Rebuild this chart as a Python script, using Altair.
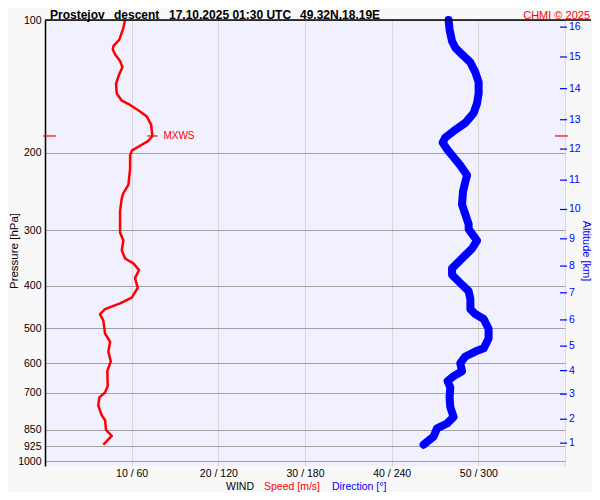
import altair as alt
import pandas as pd

# ---- data ----
speed_p = [100, 104.3, 110.8, 114.6, 116.6, 119.6, 123.8, 128.0, 132.5, 139.5, 146.8, 152.4, 155.8,
           161.2, 165.4, 172.6, 183.2, 187.9, 192.8, 197.8, 202.9, 217.3, 236.6, 247.0, 253.4, 271.2,
           303.1, 316.2, 332.8, 347.3, 356.3, 368.7, 384.7, 404.9, 426.1, 438.8, 452.4, 464.2, 480.3,
           514.1, 536.4, 564.6, 594.3, 625.5, 675.3, 698.8, 717.0, 748.2, 787.4, 807.8, 850.2, 876.7, 918.0]
speed_v = [9.24, 9.04, 8.58, 7.89, 7.82, 8.08, 8.66, 8.93, 8.58, 8.20, 8.28, 8.86, 9.82,
           10.97, 11.74, 12.24, 12.39, 11.93, 10.97, 10.01, 9.82, 9.82, 9.62, 9.04, 8.86, 8.66,
           8.66, 9.04, 8.86, 9.24, 10.20, 10.85, 10.39, 10.70, 10.01, 8.66, 6.93, 6.35, 6.73,
           6.93, 7.51, 7.31, 7.59, 7.19, 7.24, 6.93, 6.27, 6.15, 6.55, 6.93, 7.04, 7.70, 6.73]

dir_p = [100, 105.3, 111.7, 115.6, 119.6, 124.8, 131.3, 138.2, 146.8, 154.5, 162.6, 171.1, 178.6,
         184.8, 189.6, 196.2, 204.7, 213.6, 224.8, 232.6, 244.8, 262.1, 275.8, 290.3, 297.9, 316.2,
         329.9, 344.4, 365.5, 378.2, 394.7, 412.0, 429.9, 452.4, 464.2, 476.2, 501.2, 527.5, 555.1,
         564.6, 579.2, 599.5, 625.5, 641.7, 658.3, 681.3, 717.0, 754.7, 794.3, 822.0, 843.3, 880.1, 918.0]
dir_d = [279.4, 280.1, 281.8, 284.1, 288.7, 294.5, 297.9, 300.2, 300.2, 299.1, 296.7, 291.0, 282.9,
         277.1, 275.3, 278.3, 282.9, 287.5, 292.2, 291.0, 289.4, 288.7, 291.0, 293.3, 293.3, 299.1,
         295.6, 289.8, 281.8, 281.8, 287.5, 293.3, 294.5, 294.5, 297.9, 303.7, 307.1, 307.1, 303.7,
         297.9, 291.0, 287.5, 288.7, 282.9, 278.7, 280.6, 280.1, 280.6, 282.9, 278.3, 271.4, 269.0, 262.1]

alt_km = [1, 2, 3, 4, 5, 6, 7, 8, 9, 10, 11, 12, 13, 14, 15, 16]
alt_p = [910.7, 803.7, 705.0, 623.6, 548.7, 478.6, 415.4, 361.3, 313.4, 268.9, 230.7, 196.2,
         168.3, 143.1, 121.3, 103.8]

grid_p = [100, 200, 300, 400, 500, 600, 700, 850, 925, 1000]
x_ticks = [10, 20, 30, 40, 50, 60]
mxws_p = [183.2]
mxws_v = [12.39]

FONT = "Liberation Sans"
W, H = 520, 446
FS = 10.5

speed_df = pd.DataFrame({"p": speed_p, "v": speed_v, "i": list(range(len(speed_p)))})
dir_df = pd.DataFrame({"p": dir_p, "d": dir_d, "i": list(range(len(dir_p)))})
alt_df = pd.DataFrame({"km": alt_km, "p": alt_p})
mx_df = pd.DataFrame({"p": mxws_p, "v": mxws_v})
one = alt.Data(values=[{"k": 0}])

xscale = alt.Scale(domain=[0, 60], nice=False, zero=False)
yscale = alt.Scale(type="log", domain=[100, 1026], reverse=True, nice=False)

xaxis = alt.Axis(values=x_ticks, title=None, grid=True, gridColor="#d8d8d8", gridWidth=1,
                 domain=False, ticks=False, labelPadding=2, labelFontSize=FS, labelColor="black",
                 labelFont=FONT, labelFlush=False,
                 labelExpr="datum.value < 60 ? datum.value + ' / ' + (datum.value * 6) : ''")
yaxis = alt.Axis(values=grid_p, title=None, grid=True, gridColor="#a0a0a0", gridWidth=1,
                 domain=True, domainColor="black", domainWidth=1.5, ticks=False,
                 labelPadding=4, labelFontSize=FS, labelColor="black", labelFont=FONT,
                 labelOverlap=False, format="d")


def X(field):
    return alt.X(field, type="quantitative", scale=xscale, axis=xaxis)


def Y(field):
    return alt.Y(field, type="quantitative", scale=yscale, axis=yaxis)


speed_line = alt.Chart(speed_df).mark_line(color="#ff0000", strokeWidth=2.5, strokeJoin="round").encode(
    x=X("v"), y=Y("p"), order="i:Q")

dir_line = alt.Chart(dir_df).transform_calculate(v="datum.d / 6").mark_line(
    color="#0000ff", strokeWidth=8, strokeCap="round", strokeJoin="round").encode(
    x=X("v"), y=Y("p"), order="i:Q")

top_line = alt.Chart(one).mark_rule(color="black", strokeWidth=1.5).encode(
    x=alt.value(0), x2=alt.value(546), y=alt.value(0))

alt_ticks = alt.Chart(alt_df).mark_rule(color="#0000ff", strokeWidth=1.2).encode(
    x=alt.value(515), x2=alt.value(522), y=Y("p"))
alt_labels = alt.Chart(alt_df).mark_text(color="#0000ff", align="left", baseline="middle",
                                         fontSize=FS, font=FONT).encode(
    x=alt.value(524), y=Y("p"), text="km:Q")

mx_tick = alt.Chart(mx_df).transform_calculate(lo="datum.v - 0.6", hi="datum.v + 0.6").mark_rule(
    color="#ff0000", strokeWidth=1.2).encode(x=X("lo"), x2="hi:Q", y=Y("p"))
mx_text = alt.Chart(mx_df).mark_text(color="#ff0000", align="left", baseline="middle", dx=11,
                                     fontSize=10, font=FONT, text="MXWS").encode(x=X("v"), y=Y("p"))
mx_left = alt.Chart(mx_df).mark_rule(color="#ff0000", strokeWidth=1.2).encode(
    x=alt.value(-2), x2=alt.value(11), y=Y("p"))
mx_right = alt.Chart(mx_df).mark_rule(color="#ff0000", strokeWidth=1.2).encode(
    x=alt.value(510), x2=alt.value(523), y=Y("p"))


def label(text, x, y, color="black", size=FS, weight="normal", align="left", angle=0,
          baseline="alphabetic"):
    return alt.Chart(one).mark_text(text=text, color=color, fontSize=size, fontWeight=weight,
                                    align=align, angle=angle, baseline=baseline, font=FONT).encode(
        x=alt.value(x), y=alt.value(y))


texts = [
    label("Prostejov", 5, -1, size=12, weight="bold"),
    label("descent", 69, -1, size=12, weight="bold"),
    label("17.10.2025 01:30 UTC", 124, -1, size=12, weight="bold"),
    label("49.32N,18.19E", 255, -1, size=12, weight="bold"),
    label("CHMI \u00a9 2025", 545, -1, color="#ff0000", size=11, align="right"),
    label("WIND", 181, 469.5),
    label("Speed [m/s]", 219, 469.5, color="#ff0000"),
    label("Direction [\u00b0]", 287, 469.5, color="#0000ff"),
    label("Pressure [hPa]", -30, 231, size=11.5, angle=270, baseline="middle", align="center"),
    label("Altitude [km]", 541, 231, color="#0000ff", size=11, angle=90, baseline="middle",
          align="center"),
]

chart = alt.layer(
    speed_line, dir_line, top_line, alt_ticks, alt_labels,
    mx_tick, mx_text, mx_left, mx_right, *texts
).properties(
    width=W, height=H,
    autosize=alt.AutoSizeParams(type="none"),
    padding={"left": 37, "top": 12, "right": 27, "bottom": 26},
    background="#f8f8f8",
).configure_view(
    fill="#f0f0ff", strokeWidth=0
)

chart.save("out.html", embed_options={"renderer": "svg", "actions": False})
